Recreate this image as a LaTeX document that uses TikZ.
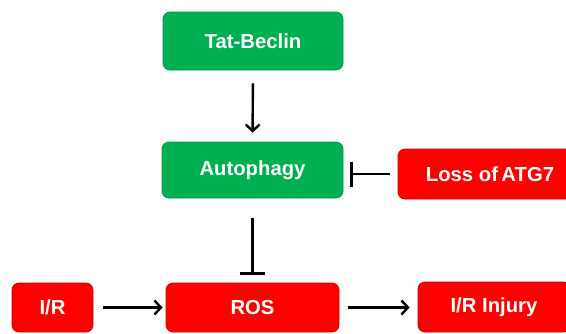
\documentclass[tikz,border=0pt]{standalone}
\usepackage{fontspec}
\setmainfont{Liberation Sans}
\usetikzlibrary{arrows.meta}
\definecolor{boxgreen}{HTML}{00B050}
\definecolor{boxgreenline}{HTML}{009A46}
\definecolor{boxred}{HTML}{FF0000}
\definecolor{boxredline}{HTML}{D40000}
\tikzset{
  box/.style={rounded corners=7pt, line width=0.8pt, text=white,
    font=\fontsize{20.3}{23}\selectfont\bfseries, inner sep=0pt, anchor=center},
  gbox/.style={box, fill=boxgreen, draw=boxgreenline},
  rbox/.style={box, fill=boxred, draw=boxredline},
  act/.style={line width=2.4pt, -{Straight Barb[length=6.5pt,width=14pt,line width=2.4pt]}},
  inh/.style={line width=2.4pt, -{Bar[width=25pt,line width=2.6pt]}}
}
\begin{document}
\begin{tikzpicture}[x=1pt,y=-1pt]
\useasboundingbox (0,0) rectangle (566,333);
\clip (0,0) rectangle (566,333);
\node[gbox, minimum width=180pt, minimum height=58pt] (tat) at (253,41) {Tat-Beclin};
\node[gbox, minimum width=181pt, minimum height=56pt] (auto) at (252.5,170) {Autophagy};
\node[rbox, minimum width=184pt, minimum height=50pt] (loss) at (490,174) {Loss of\,ATG7};
\node[rbox, minimum width=81pt, minimum height=49pt] (ir) at (52.5,307.5) {I/R};
\node[rbox, minimum width=173pt, minimum height=49pt] (ros) at (252.5,307.5) {ROS};
\node[rbox, minimum width=152pt, minimum height=50pt] (inj) at (494,307) {I/R Injury};
\draw[act, shorten <=13pt, shorten >=9pt] (tat.south) -- (auto.north);
\draw[inh, shorten <=8pt, shorten >=7pt] (loss.west) -- (loss.west -| auto.east);
\draw[inh, shorten <=20pt, shorten >=8pt] (auto.south) -- (ros.north);
\draw[act, shorten <=10pt, shorten >=3pt] (ir.east) -- (ros.west);
\draw[act, shorten <=9pt, shorten >=8pt] (ros.east) -- (ros.east -| inj.west);
\end{tikzpicture}
\end{document}
